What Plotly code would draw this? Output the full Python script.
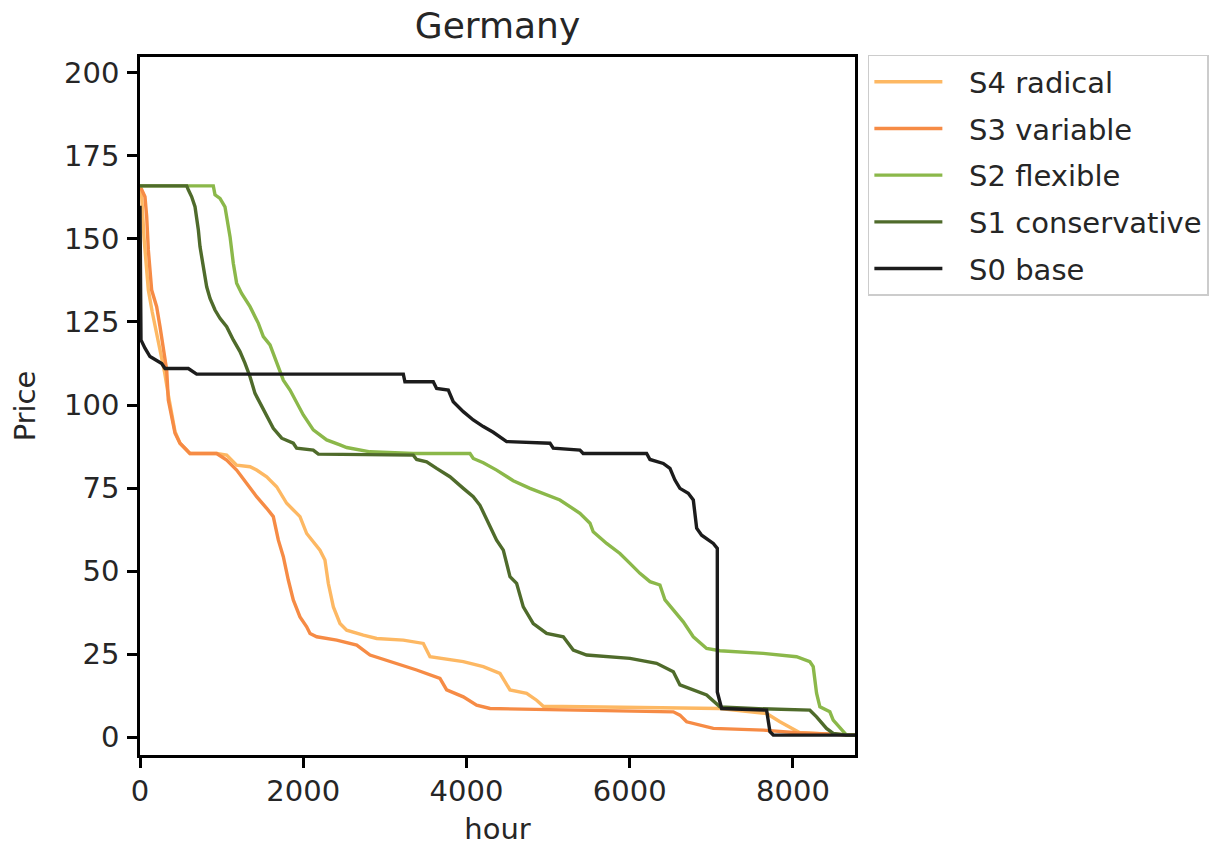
import plotly.graph_objects as go

# ---- data (hour, price) ----
s0_hour = [0, 12, 61, 122, 266, 306, 592, 694, 3226, 3246, 3593, 3634, 3777, 3838, 3961, 4083,
           4206, 4328, 4492, 5023, 5063, 5390, 5430, 6207, 6248, 6411, 6493, 6554, 6615, 6717,
           6779, 6820, 6881, 7024, 7073, 7073, 7126, 7677, 7718, 7759, 8760]
s0_price = [160, 119.6, 117.1, 114.6, 112.5, 111.0, 111.0, 109.3, 109.3, 107.0, 107.0, 105.0,
            104.5, 101.0, 98.0, 95.5, 93.5, 91.8, 89.0, 88.5, 87.0, 86.4, 85.4, 85.4, 83.6, 82.4,
            80.9, 77.4, 74.9, 73.4, 71.4, 62.9, 60.8, 58.3, 56.8, 13.6, 8.6, 8.1, 1.6, 0.6, 0.6]

s1_hour = [0, 572, 592, 633, 674, 694, 715, 735, 776, 817, 858, 919, 980, 1062, 1143, 1225, 1286,
           1348, 1409, 1470, 1552, 1633, 1736, 1878, 1919, 2123, 2185, 3348, 3389, 3512, 3634,
           3797, 3961, 4083, 4165, 4247, 4369, 4451, 4533, 4614, 4696, 4818, 4982, 5186, 5308,
           5472, 6003, 6329, 6534, 6615, 6779, 6942, 7105, 7513, 8207, 8289, 8411, 8493, 8656, 8760]
s1_price = [166, 166, 164.8, 162.7, 159.7, 156.7, 152.7, 147.7, 141.7, 135.6, 132.1, 128.6,
            126.1, 123.6, 119.6, 116.1, 112.6, 108.5, 103.5, 100.5, 96.5, 93.0, 90.0, 88.5, 87.0,
            86.4, 85.2, 84.9, 83.6, 82.9, 80.9, 78.4, 74.9, 72.4, 69.8, 65.4, 59.3, 56.3, 48.3,
            46.3, 39.2, 34.2, 31.2, 30.2, 26.2, 24.7, 23.7, 22.2, 19.7, 15.7, 14.2, 12.7, 9.1,
            8.6, 8.1, 6.1, 2.6, 1.1, 0.6, 0.6]

s2_hour = [0, 898, 919, 980, 1041, 1103, 1143, 1184, 1245, 1348, 1450, 1511, 1593, 1674, 1756,
           1838, 1919, 2001, 2123, 2287, 2450, 2532, 2818, 3348, 4043, 4083, 4206, 4369, 4573,
           4778, 5145, 5390, 5513, 5553, 5717, 5880, 6003, 6125, 6248, 6370, 6432, 6534, 6656,
           6779, 6942, 7105, 7636, 8044, 8207, 8248, 8289, 8330, 8452, 8493, 8615, 8656, 8760]
s2_price = [166, 166, 163.3, 162.2, 159.7, 150.7, 142.7, 136.7, 133.6, 129.6, 124.6, 120.6,
            118.1, 112.6, 107.5, 104.5, 101.0, 97.0, 92.5, 89.5, 88.0, 87.2, 85.9, 85.4, 85.4,
            83.9, 82.6, 80.4, 77.2, 74.9, 71.4, 67.4, 64.4, 61.8, 58.3, 55.3, 52.3, 49.3, 46.8,
            45.8, 41.3, 38.3, 34.7, 30.2, 26.7, 26.0, 25.2, 24.2, 22.7, 21.2, 13.2, 9.1, 7.6,
            5.1, 1.6, 0.6, 0.6]

s3_hour = [0, 20, 61, 82, 102, 143, 204, 245, 286, 327, 347, 388, 429, 490, 612, 939, 1062, 1184,
           1307, 1429, 1552, 1633, 1695, 1756, 1817, 1878, 1960, 2042, 2083, 2165, 2410, 2655,
           2818, 3144, 3389, 3675, 3757, 3961, 4124, 4288, 6534, 6615, 6697, 7024, 7636, 8044, 8760]
s3_price = [166, 164.8, 162.7, 156.7, 146.7, 134.6, 129.6, 123.6, 116.6, 110.5, 101.5, 96.5,
            91.5, 88.5, 85.4, 85.4, 83.4, 80.4, 76.4, 72.4, 68.9, 66.4, 59.3, 54.3, 47.3, 41.3,
            36.2, 33.2, 31.2, 30.2, 29.2, 27.7, 24.7, 22.2, 20.2, 17.7, 14.2, 12.1, 9.6, 8.6, 7.6,
            6.6, 4.6, 2.6, 2.1, 1.3, 0.6]

s4_hour = [0, 20, 50, 80, 102, 150, 200, 250, 300, 347, 388, 429, 490, 612, 939, 1062, 1184,
           1348, 1429, 1552, 1674, 1797, 1960, 2042, 2205, 2266, 2307, 2369, 2450, 2532, 2736,
           2900, 3226, 3471, 3553, 3675, 3961, 4206, 4410, 4533, 4737, 4859, 4941, 7105, 7677,
           7840, 8085, 8760]
s4_price = [166, 163, 150, 140, 134.6, 128.0, 122.0, 116.0, 110.0, 103.0, 97.0, 92.0, 88.5,
            85.4, 85.4, 84.9, 81.9, 81.4, 80.4, 78.4, 75.4, 70.4, 66.4, 61.3, 56.3, 53.3, 46.3,
            39.2, 34.2, 32.2, 30.7, 29.7, 29.2, 28.2, 24.2, 23.7, 22.7, 21.2, 19.2, 14.2, 13.2,
            11.1, 9.3, 8.6, 7.1, 4.6, 1.3, 0.6]

series_names = ["S4 radical", "S3 variable", "S2 flexible", "S1 conservative", "S0 base"]
series_hours = [s4_hour, s3_hour, s2_hour, s1_hour, s0_hour]
series_prices = [s4_price, s3_price, s2_price, s1_price, s0_price]
series_colors = ["#fdb863", "#f68b45", "#8bb84a", "#4f6b2b", "#1c1c1c"]

x_ticks = [0, 2000, 4000, 6000, 8000]
y_ticks = [0, 25, 50, 75, 100, 125, 150, 175, 200]

FONT = "DejaVu Sans"
TXT = "#262626"

fig = go.Figure()
for name, hx, py, col in zip(series_names, series_hours, series_prices, series_colors):
    fig.add_trace(go.Scatter(x=hx, y=py, mode="lines", name="\u2002\u2005" + name,
                             legendgroup=name, line=dict(color=col, width=3.4)))

axis_common = dict(showline=True, linecolor="black", linewidth=2.5, mirror=True,
                   ticks="outside", ticklen=10, tickwidth=2.5, tickcolor="black",
                   showgrid=False, zeroline=False, automargin=False,
                   tickfont=dict(family=FONT, size=29, color=TXT))

fig.update_layout(
    width=1225, height=849,
    paper_bgcolor="white", plot_bgcolor="white",
    margin=dict(l=132, r=378, t=49, b=102),
    title=dict(text="Germany", x=0.3996, xanchor="center", xref="container",
               y=0.979, yanchor="middle", yref="container",
               font=dict(family=FONT, size=36, color=TXT)),
    xaxis=dict(range=[0, 8760], tickvals=x_ticks, ticktext=[str(v) for v in x_ticks],
               ticklabelstandoff=-2,
               title=dict(text="hour", font=dict(family=FONT, size=29, color=TXT), standoff=13),
               **axis_common),
    yaxis=dict(range=[-5.4, 204.8], tickvals=y_ticks, ticktext=[str(v) for v in y_ticks],
               ticklabelstandoff=2,
               title=dict(text="Price", font=dict(family=FONT, size=29, color=TXT), standoff=22),
               **axis_common),
    legend=dict(x=1.018, xanchor="left", y=1.003, yanchor="top",
                traceorder="grouped", tracegroupgap=6,
                bordercolor="#cccccc", borderwidth=1.5, bgcolor="white",
                font=dict(family=FONT, size=29, color=TXT),
                itemwidth=68),
    showlegend=True,
)

fig.write_html("out.html")
